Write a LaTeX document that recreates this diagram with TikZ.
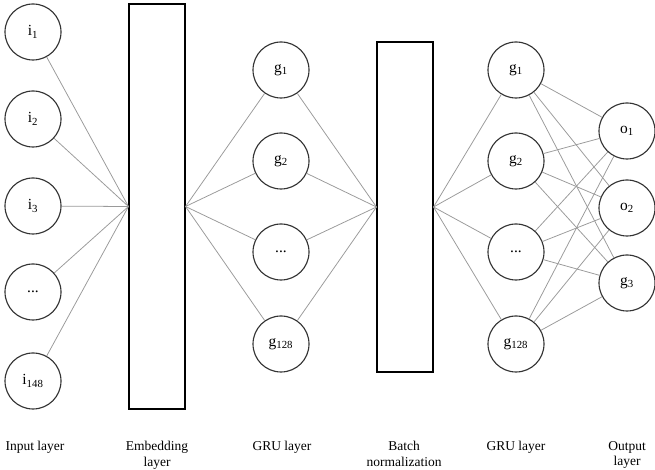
\documentclass[tikz,border=0pt]{standalone}
\usepackage{fontspec}
\setmainfont{Liberation Serif}
\definecolor{NNEdge}{HTML}{333333}
\definecolor{NNLink}{HTML}{9A9A9A}

\begin{document}
\begin{tikzpicture}[x=1cm,y=1cm,
  neuron/.style={circle,draw=NNEdge,line width=0.8pt,minimum size=1.4cm,inner sep=0pt,font=\fontsize{11}{12}\selectfont},
  layerbox/.style={draw=black,line width=0.75pt,minimum width=1.4cm,inner sep=0pt},
  link/.style={draw=NNLink,line width=0.55pt},
  caption/.style={anchor=north,align=center,font=\fontsize{9.6}{11.3}\selectfont}]
\path[use as bounding box] (0,0) rectangle (16.375,11.725);
% input layer
\node[neuron] (i1) at (0.825,10.925) {i\textsubscript{1}};
\node[neuron] (i2) at (0.825,8.750) {i\textsubscript{2}};
\node[neuron] (i3) at (0.825,6.575) {i\textsubscript{3}};
\node[neuron] (i4) at (0.825,4.425) {...};
\node[neuron] (i5) at (0.825,2.200) {i\textsubscript{148}};
% embedding layer
\node[layerbox,minimum height=10.125cm] (emb) at (3.925,6.5625) {};
% first GRU layer
\node[neuron] (ga1) at (7.025,9.975) {g\textsubscript{1}};
\node[neuron] (ga2) at (7.025,7.700) {g\textsubscript{2}};
\node[neuron] (ga3) at (7.025,5.425) {...};
\node[neuron] (ga4) at (7.025,3.125) {g\textsubscript{128}};
% batch normalization
\node[layerbox,minimum height=8.25cm] (bn) at (10.125,6.55) {};
% second GRU layer
\node[neuron] (gb1) at (12.900,9.975) {g\textsubscript{1}};
\node[neuron] (gb2) at (12.900,7.700) {g\textsubscript{2}};
\node[neuron] (gb3) at (12.900,5.425) {...};
\node[neuron] (gb4) at (12.900,3.125) {g\textsubscript{128}};
% output layer
\node[neuron] (o1) at (15.675,8.450) {o\textsubscript{1}};
\node[neuron] (o2) at (15.675,6.525) {o\textsubscript{2}};
\node[neuron] (o3) at (15.675,4.650) {g\textsubscript{3}};
% connections
\foreach \k in {1,...,5} \draw[link] (i\k) -- (emb.west);
\foreach \k in {1,...,4} {
  \draw[link] (emb.east) -- (ga\k);
  \draw[link] (ga\k) -- (bn.west);
  \draw[link] (bn.east) -- (gb\k);
  \foreach \m in {1,2,3} \draw[link] (gb\k) -- (o\m);
}
% captions
\node[caption] (capin) at (0.875,0.82) {Input layer};
\node[caption] (capemb) at (3.925,0.82) {Embedding\\layer};
\node[caption] (capga) at (7.050,0.82) {GRU layer};
\node[caption] (capbn) at (10.100,0.82) {Batch\\normalization};
\node[caption] (capgb) at (12.900,0.82) {GRU layer};
\node[caption] (capout) at (15.675,0.82) {Output\\layer};
\end{tikzpicture}
\end{document}
